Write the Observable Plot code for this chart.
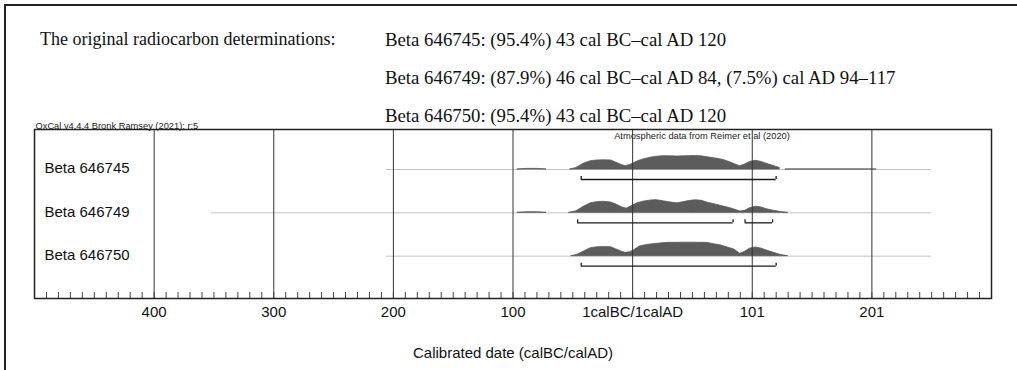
<!DOCTYPE html>
<html>
<head>
<meta charset="utf-8">
<script src="https://cdn.jsdelivr.net/npm/d3@7"></script>
<script src="https://cdn.jsdelivr.net/npm/@observablehq/plot@0.6"></script>
<style>
  body { margin: 0; background: #fff; }
  #wrap { position: relative; width: 1017px; height: 370px; overflow: hidden; background: #fff; }
  #border { position: absolute; left: 4px; top: 4px; width: 1030px; height: 400px;
            border-left: 2px solid #222; border-top: 2px solid #222; }
  .hdr { position: absolute; font-family: "Liberation Serif", "Times New Roman", serif;
         font-size: 18.8px; line-height: 19px; color: #111; white-space: nowrap; }
  .lead { font-size: 18px; }
  #chart { position: absolute; left: 0; top: 120px; }
</style>
</head>
<body>
<div id="wrap">
  <div id="border"></div>
  <div id="header"></div>
  <div id="chart"></div>
</div>
<script>
// ---------- data ----------
const headerLead = "The original radiocarbon determinations:";
const headerLines = [
  "Beta 646745: (95.4%) 43 cal BC–cal AD 120",
  "Beta 646749: (87.9%) 46 cal BC–cal AD 84, (7.5%) cal AD 94–117",
  "Beta 646750: (95.4%) 43 cal BC–cal AD 120"
];
const samples = ["Beta 646745", "Beta 646749", "Beta 646750"];

// calibration plotting range (grey line), years on the calBC/calAD axis (0 = 1calBC/1calAD)
const rangeStart = [-206, -352, -206];
const rangeEnd = [250, 250, 250];

// 95.4% ranges (brackets)
const hpdSample = ["Beta 646745", "Beta 646749", "Beta 646749", "Beta 646750"];
const hpdFrom = [-43, -46, 94, -43];
const hpdTo = [120, 84, 117, 120];

// axis
const majorTicks = [-400, -300, -200, -100, 0, 100, 200];
const majorLabels = ["400", "300", "200", "100", "1calBC/1calAD", "101", "201"];
const minorTicks = d3.range(-490, 300, 10);

// probability distributions (relative height), segments separated
const dist745Seg  = [0,0,0,0, 1,1,1,1,1,1,1,1,1,1,1,1,1,1,1,1,1,1,1,1,1,1,1,1,1,1,1,1,1,1,1,1,1,1,1, 2,2];
const dist745Year = [-96,-88,-80,-72, -52,-47,-41,-35,-30,-24,-18,-14,-9,-6,-2,1,5,9,15,20,26,32,37,45,52,57,64,71,76,82,86,90,94,98,103,108,112,118,123, 128,204];
const dist745P    = [0,0.6,0.6,0, 0,1.5,5.7,8.3,9,9.2,9,7,4.5,3.3,4.5,6.3,8.5,10,11.8,12.8,13.3,13.2,13,13.3,13.5,13.3,12,10.7,9.5,7,5,3.3,5,7.5,8.7,7.5,5.7,3.5,1.5, 0,0];

const dist749Seg  = [0,0,0,0, 1,1,1,1,1,1,1,1,1,1,1,1,1,1,1,1,1,1,1,1,1,1,1,1,1,1,1,1,1,1,1,1,1];
const dist749Year = [-96,-88,-80,-72, -53,-47,-41,-35,-29,-24,-18,-14,-9,-5,-1,4,9,15,20,26,31,37,42,48,53,58,63,70,76,82,87,90,94,98,103,107,112];
const dist749P    = [0,0.6,0.6,0, 0,1.5,6,9.5,10.8,11,10.3,8.5,5.5,4.2,6.5,9.5,11.2,12.3,12.7,11.5,10.5,9.5,10.5,12,12.6,12,10,8.2,6.3,4.5,2.5,1.3,2,4.5,6.2,5.5,3.7];
const dist749Tail = [118, 124, 130];
const dist749TailP = [2, 0.8, 0];

const dist750Year = [-51,-46,-41,-35,-29,-24,-18,-14,-9,-6,-2,1,6,12,20,29,40,52,62,68,74,80,85,90,94,98,103,108,112,118,124,130];
const dist750P    = [0,1.5,4.5,8,9,9.2,9,7,4.5,3.3,4,5.7,9.7,11.2,12.3,13.3,13.4,13.4,13.3,12,10.7,8.5,6.7,2.3,4.5,7.5,8.7,7.5,5.7,3.3,1.2,0];

// ---------- build tables ----------
const ROWPX = 43.33;           // pixel height of one row on the y scale
const rowOf = s => samples.indexOf(s);

const densRows = [];
dist745Year.forEach((yr, i) => densRows.push({sample: samples[0], seg: "a" + dist745Seg[i], year: yr, p: dist745P[i]}));
dist749Year.forEach((yr, i) => densRows.push({sample: samples[1], seg: "b" + dist749Seg[i], year: yr, p: dist749P[i]}));
dist749Tail.forEach((yr, i) => densRows.push({sample: samples[1], seg: "b1", year: yr, p: dist749TailP[i]}));
dist750Year.forEach((yr, i) => densRows.push({sample: samples[2], seg: "c1", year: yr, p: dist750P[i]}));
densRows.forEach(d => { d.base = rowOf(d.sample); d.top = d.base - d.p / ROWPX; });

const ranges = samples.map((s, i) => ({sample: s, row: i, from: rangeStart[i], to: rangeEnd[i]}));
const hpd = hpdSample.map((s, i) => ({sample: s, row: rowOf(s) + 10 / ROWPX, from: hpdFrom[i], to: hpdTo[i]}));
const hpdEnds = hpd.flatMap(h => [{x: h.from, row: h.row}, {x: h.to, row: h.row}]);

// ---------- header ----------
const header = document.getElementById("header");
function addHdr(text, left, baseline, cls) {
  const el = document.createElement("div");
  el.className = "hdr" + (cls ? " " + cls : "");
  el.textContent = text;
  el.style.left = left + "px";
  el.style.top = (baseline - 15) + "px";
  header.appendChild(el);
}
addHdr(headerLead, 40, 45, "lead");
headerLines.forEach((t, i) => addHdr(t, 385, 45 + i * 38));

// ---------- chart ----------
const sans = "'Liberation Sans', Arial, Helvetica, sans-serif";
const chart = Plot.plot({
  width: 1017,
  height: 250,
  marginLeft: 34,
  marginRight: 26,
  marginTop: 9,
  marginBottom: 72,
  style: {fontFamily: sans, fontSize: "15px", color: "#222", background: "transparent", overflow: "visible"},
  x: {domain: [-500, 300]},
  y: {domain: [-0.923, 2.977], reverse: true, axis: null},
  marks: [
    Plot.ruleY(ranges, {y: "row", x1: "from", x2: "to", stroke: "#c2c2c2", strokeWidth: 1}),
    Plot.area(densRows, {x1: "year", y1: "base", y2: "top", z: "seg", fill: "#5c5c5c", stroke: "#5c5c5c", strokeWidth: 0.8, curve: "linear"}),
    Plot.ruleX(majorTicks, {stroke: "#333", strokeWidth: 1}),
    Plot.tickX(minorTicks, {insetTop: 163, stroke: "#444", strokeWidth: 1}),
    Plot.ruleY(hpd, {y: "row", x1: "from", x2: "to", stroke: "#1a1a1a", strokeWidth: 1.3}),
    Plot.ruleX(hpdEnds, {x: "x", y1: "row", y2: d => d.row - 3 / ROWPX, stroke: "#1a1a1a", strokeWidth: 1.3}),
    Plot.text(samples, {y: (d, i) => i, text: d => d, frameAnchor: "left", textAnchor: "start", dx: 10, dy: -1, fontSize: 15, fill: "#111"}),
    Plot.frame({stroke: "#222", strokeWidth: 1.5}),
    Plot.axisX(majorTicks, {tickFormat: d => majorLabels[majorTicks.indexOf(d)], tickSize: 0, tickPadding: 8, fontSize: 15, label: null, fill: "#111"}),
    Plot.text(["Calibrated date (calBC/calAD)"], {text: d => d, frameAnchor: "bottom", dy: 59, fontSize: 15, fill: "#111"}),
    Plot.text(["OxCal v4.4.4 Bronk Ramsey (2021); r:5"], {text: d => d, frameAnchor: "top-left", textAnchor: "start", lineAnchor: "bottom", dx: 1, dy: -1, fontSize: 9.3, fill: "#222"}),
    Plot.text(["Atmospheric data from Reimer et al (2020)"], {text: d => d, x: () => 58, frameAnchor: "top", lineAnchor: "top", dy: 3, fontSize: 9.3, fill: "#222"})
  ]
});
document.getElementById("chart").appendChild(chart);
</script>
</body>
</html>
